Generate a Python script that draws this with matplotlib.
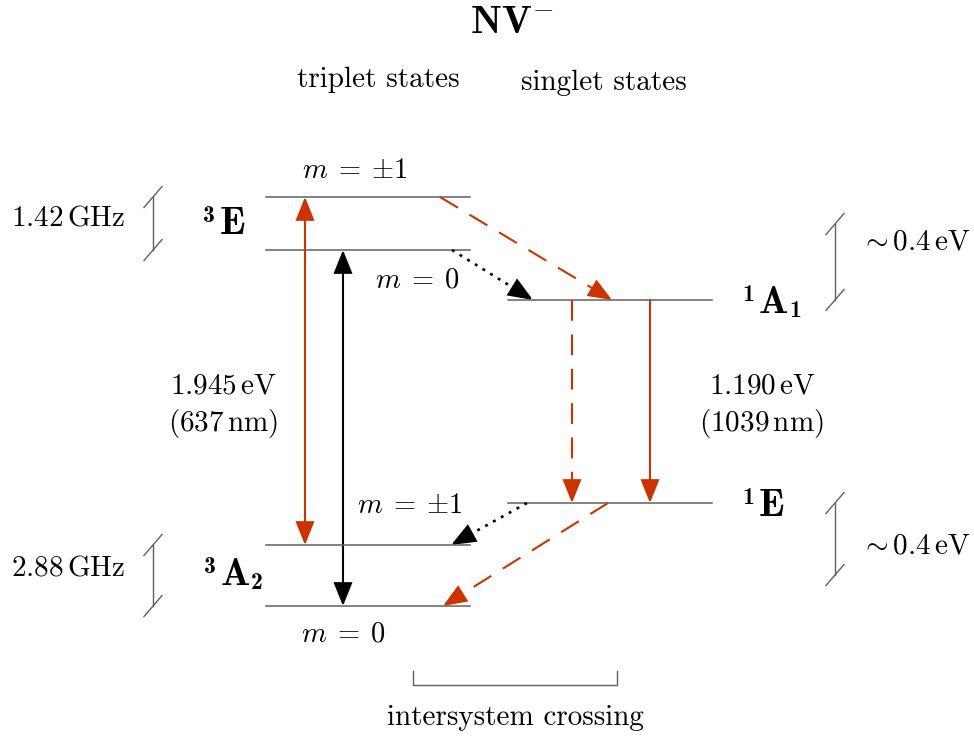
import numpy as np
import matplotlib.pyplot as plt
from matplotlib.patches import FancyArrowPatch

plt.rcParams['mathtext.fontset'] = 'cm'
plt.rcParams['axes.unicode_minus'] = False

RED = '#cc3300'
LEVEL = '#606060'

# energy levels (diagram units: x from, x to, y)
triplet_names = ['3E_pm1', '3E_0', '3A2_pm1', '3A2_0']
triplet_y = [197, 250, 545, 606]
triplet_x = [266, 470]
singlet_names = ['1A1', '1E']
singlet_y = [300, 503]
singlet_x = [508, 712]

# transitions: (x0, y0, x1, y1)
optical_triplet = [(305, 197, 305, 545), (343, 250, 343, 606)]
isc_dashed = [(440, 197, 612, 300), (608, 503, 443, 606)]
isc_dotted = [(452, 250, 533, 300), (527, 503, 451, 545)]
singlet_dashed = (572, 300, 572, 503)
singlet_solid = (650, 300, 650, 503)

# splitting markers: (x, y_top, y_bottom, label, label_y)
splittings_left = [(153, 197, 250, r'$1.42\,\mathrm{GHz}$', 218),
                   (153, 545, 606, r'$2.88\,\mathrm{GHz}$', 567)]
splittings_right = [(835, 224, 300, r'$\sim 0.4\,\mathrm{eV}$', 242),
                    (835, 503, 575, r'$\sim 0.4\,\mathrm{eV}$', 545)]

fig = plt.figure(figsize=(9.74, 7.38), dpi=100)
ax = fig.add_axes([0, 0, 1, 1])
ax.set_xlim(0, 974)
ax.set_ylim(738, 0)
ax.axis('off')

for y in triplet_y:
    ax.plot(triplet_x, [y, y], color=LEVEL, lw=1.1)
for y in singlet_y:
    ax.plot(singlet_x, [y, y], color=LEVEL, lw=1.1)

HEAD = 20  # head length in diagram units


def arrow(x0, y0, x1, y1, color, ls='-', style='-|>', lw=1.5):
    if ls == '-':
        a = FancyArrowPatch((x0, y0), (x1, y1),
                            arrowstyle=style + ',head_length=0.6,head_width=0.24',
                            mutation_scale=24, color=color, lw=lw,
                            shrinkA=0, shrinkB=0, joinstyle='miter')
        ax.add_patch(a)
        return
    # broken line plus solid head
    d = np.hypot(x1 - x0, y1 - y0)
    ux, uy = (x1 - x0) / d, (y1 - y0) / d
    bx, by = x1 - ux * HEAD, y1 - uy * HEAD
    ax.plot([x0, bx], [y0, by], color=color, lw=lw, linestyle=ls)
    a = FancyArrowPatch((x1 - ux * (HEAD + 2), y1 - uy * (HEAD + 2)), (x1, y1),
                        arrowstyle='-|>,head_length=0.6,head_width=0.24',
                        mutation_scale=24, color=color, lw=lw,
                        shrinkA=0, shrinkB=0, joinstyle='miter')
    ax.add_patch(a)


arrow(*optical_triplet[0], RED, style='<|-|>')
arrow(*optical_triplet[1], 'black', style='<|-|>')
for seg in isc_dashed:
    arrow(*seg, RED, ls=(0, (10, 6.5)))
for seg in isc_dotted:
    arrow(*seg, 'black', ls=(0, (1.1, 2.3)), lw=1.9)
arrow(*singlet_dashed, RED, ls=(0, (10, 6.5)))
arrow(*singlet_solid, RED)

# splitting markers
for x, y0, y1, lab, ly in splittings_left + splittings_right:
    ax.plot([x, x], [y0, y1], color=LEVEL, lw=1.0)
    for y in (y0, y1):
        ax.plot([x - 9, x + 9], [y + 10.5, y - 10.5], color=LEVEL, lw=1.0)
for x, y0, y1, lab, ly in splittings_left:
    ax.text(68, ly, lab, ha='center', va='center', fontsize=21)
for x, y0, y1, lab, ly in splittings_right:
    ax.text(915, ly, lab, ha='center', va='center', fontsize=21)

# isc bracket
ax.plot([413, 413, 617, 617], [671, 685, 685, 671], color=LEVEL, lw=1.0)

txt = dict(ha='center', va='center')
ax.text(512, 22, r'$\mathbf{NV}^{-}$', fontsize=28.5, **txt)
ax.text(378, 80, 'triplet states', family='cmr10', fontsize=21, **txt)
ax.text(604, 83, 'singlet states', family='cmr10', fontsize=21, **txt)
ax.text(515, 718, 'intersystem crossing', family='cmr10', fontsize=21, **txt)

ax.text(355, 170, r'$m\;=\:{\pm}1$', fontsize=20.5, **txt)
ax.text(417, 280, r'$m\;=\:0$', fontsize=20.5, **txt)
ax.text(410, 505, r'$m\;=\:{\pm}1$', fontsize=20.5, **txt)
ax.text(343, 634, r'$m\;=\:0$', fontsize=20.5, **txt)


def term(x, y, mult, letter, sub=None):
    # term symbol: bold superscript multiplicity, bold letter, bold subscript
    kw = dict(family='cmb10', ha='left', va='baseline', fontweight='bold')
    ax.text(x, y - 12, mult, fontsize=17, **kw)
    ax.text(x + 17, y, letter, fontsize=28, **kw)
    if sub is not None:
        ax.text(x + 47, y + 4, sub, fontsize=17, **kw)


term(203, 234, '3', 'E')
term(204, 585, '3', 'A', '2')
term(742, 313, '1', 'A', '1')
term(742, 516, '1', 'E')

ax.text(223, 385, r'$1.945\,\mathrm{eV}$', fontsize=21, **txt)
ax.text(223, 424, r'$(637\,\mathrm{nm})$', fontsize=21, **txt)
ax.text(762, 385, r'$1.190\,\mathrm{eV}$', fontsize=21, **txt)
ax.text(761, 424, r'$(1039\,\mathrm{nm})$', fontsize=21, **txt)

fig.savefig('out.png', dpi=100)
